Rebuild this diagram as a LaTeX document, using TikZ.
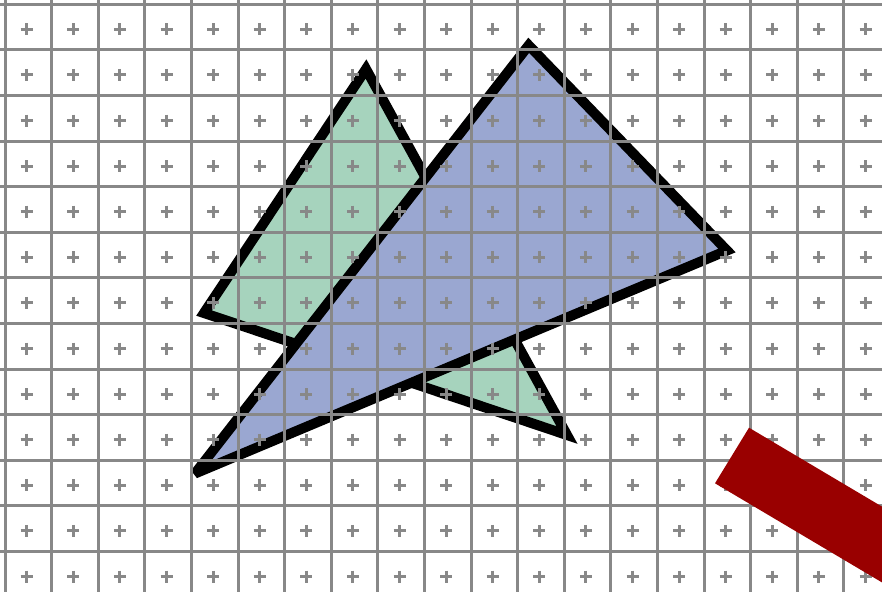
\documentclass[tikz,border=0pt]{standalone}
\usepackage{tikz}
\usetikzlibrary{calc}
\definecolor{mintfill}{HTML}{A6D3BD}
\definecolor{bluefill}{HTML}{9AA7D1}
\definecolor{gridgray}{HTML}{888888}
\definecolor{barred}{HTML}{990000}
\tikzset{
  tri/.style={draw=black,line width=10pt,miter limit=3.5,line join=miter},
  gridline/.style={gridgray,line width=3pt},
  plusline/.style={gridgray,line width=3pt}
}
\begin{document}
\begin{tikzpicture}[x=1pt,y=-1pt]
\clip (0,0) rectangle (882,592);
\fill[white] (0,0) rectangle (882,592);
% green triangle
\coordinate (G1) at (366,69); \coordinate (G2) at (204,313); \coordinate (G3) at (567,435);
\draw[tri,fill=mintfill] (G1)--(G2)--(G3)--cycle;
% blue triangle
\coordinate (B1) at (528.7,45.3); \coordinate (B2) at (727,250.5); \coordinate (B3) at (195,473.5);
\draw[tri,fill=bluefill] (B1)--(B2)--(B3)--cycle;
% pixel grid and sample points
\foreach \i in {0,...,18}{\draw[gridline] ({5+46.6*\i},0) -- ++(0,592);}
\foreach \j in {0,...,12}{\draw[gridline] (0,{4.3+45.6*\j}) -- ++(882,0);}
\foreach \i in {0,...,18}{
  \foreach \j in {0,...,12}{
    \coordinate (S) at ({26.7+46.6*\i},{29.3+45.6*\j});
    \draw[plusline] ($(S)+(-6,0)$) -- ($(S)+(6,0)$);
    \draw[plusline] ($(S)+(0,-6)$) -- ($(S)+(0,6)$);
  }
}
% red bar
\coordinate (R1) at (749,427.7); \coordinate (R2) at (715,483.3);
\fill[barred] (R1)--(R2)--($(R2)+(215,127.6)$)--($(R1)+(215,127.6)$)--cycle;
\end{tikzpicture}
\end{document}
